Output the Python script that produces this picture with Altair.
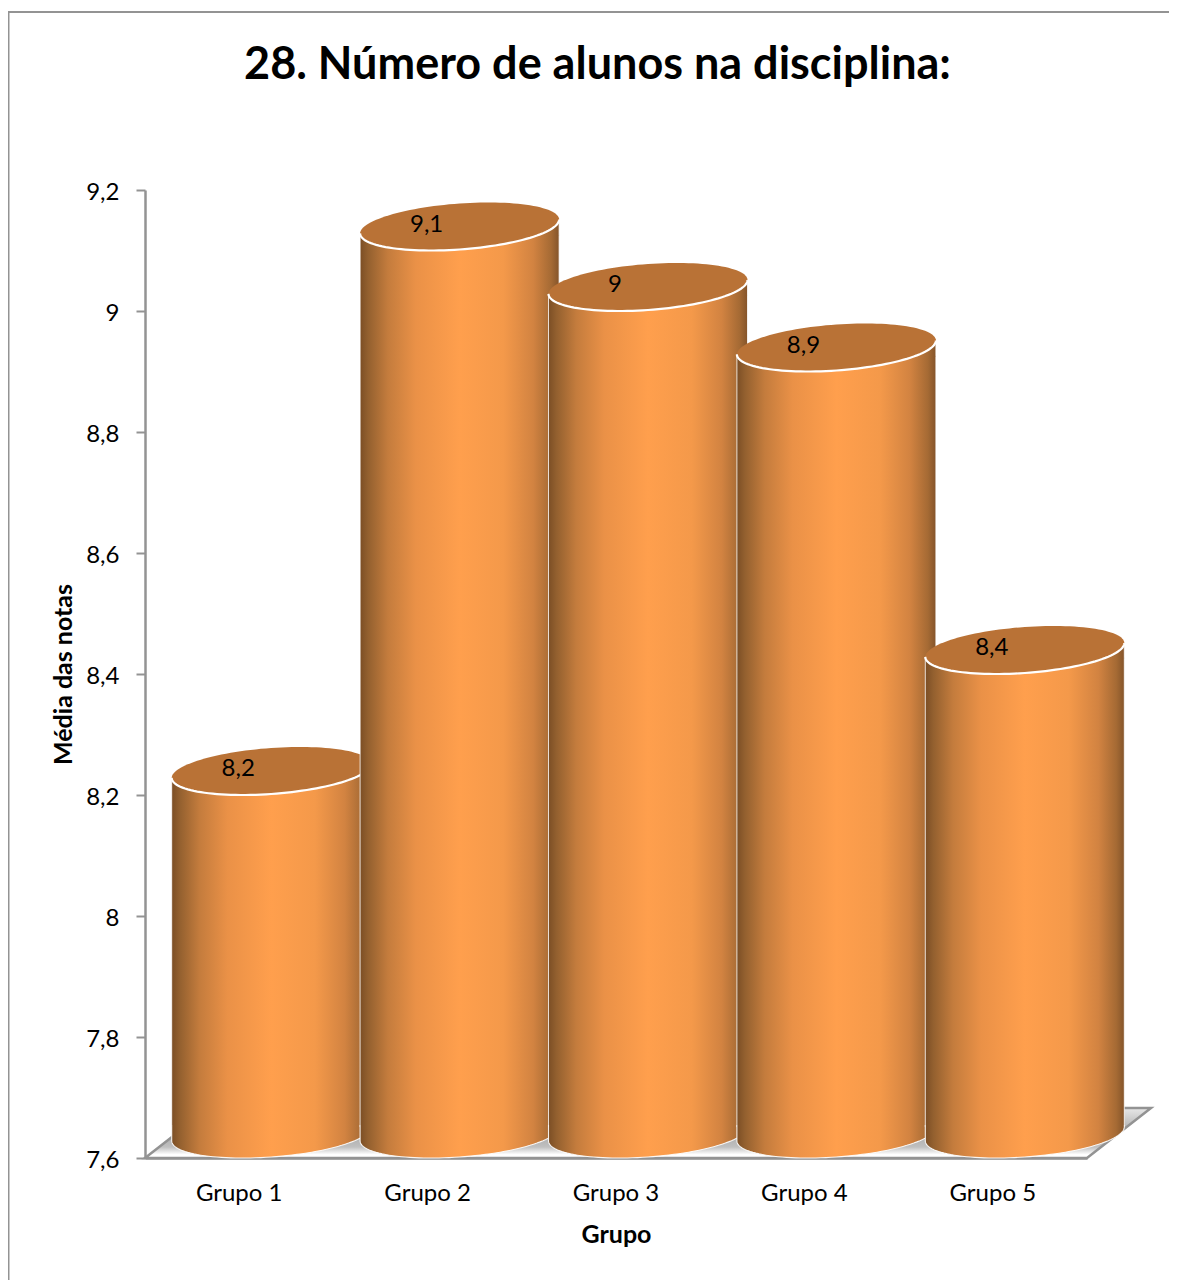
import math
import altair as alt
import pandas as pd

groups = ["Grupo 1", "Grupo 2", "Grupo 3", "Grupo 4", "Grupo 5"]
means = [8.2, 9.1, 9.0, 8.9, 8.4]
y_ticks = [7.6, 7.8, 8.0, 8.2, 8.4, 8.6, 8.8, 9.0, 9.2]
labels = ["8,2", "9,1", "9", "8,9", "8,4"]
base_value = 7.6
title_text = "28. Número de alunos na disciplina:"

df = pd.DataFrame({"g": groups, "v": means, "t": labels, "base": [base_value] * 5})

W, H = 942, 968
R = 99.5            # cylinder half width in px
SIZE = 4 * R * R    # custom symbols are scaled by sqrt(size)/2
B, S = 0.231, 0.07  # ellipse half height and shear, in units of R
DX, DY = 32, -24
FONT = "Lato"
GRAY = "#939393"
INK = "#000000"


def arc(u0, u1, n=60):
    pts = []
    for i in range(n + 1):
        u = u0 + (u1 - u0) * i / n
        pts.append((math.cos(u), B * math.sin(u) - S * math.cos(u)))
    return pts


def path(pts, close=True):
    s = "M" + " L".join(f"{x:.4f} {y:.4f}" for x, y in pts)
    return s + (" Z" if close else "")


ellipse = path(arc(0, 2 * math.pi, 120))
lower = arc(0, math.pi)
E = 0.02
bottom_cap = path([(-1, -S - E), (1, -S - E)] + lower)
top_cap = path([(-1, S + E), (1, S + E)] + lower)
front_arc = path(lower, close=False)
bottom_outline = path([(1, -S - E)] + lower + [(-1, -S - E)], close=False)
top_side = path([(1, -S), (1, S + E)], close=False)

side = alt.LinearGradient(
    gradient="linear", x1=0, x2=1, y1=0, y2=0,
    stops=[
        alt.GradientStop(offset=0.0, color="#7b4e25"),
        alt.GradientStop(offset=0.04, color="#93602f"),
        alt.GradientStop(offset=0.14, color="#c47c3d"),
        alt.GradientStop(offset=0.28, color="#ea9147"),
        alt.GradientStop(offset=0.5, color="#ff9f4d"),
        alt.GradientStop(offset=0.72, color="#f4994a"),
        alt.GradientStop(offset=0.87, color="#d28341"),
        alt.GradientStop(offset=0.96, color="#a56a34"),
        alt.GradientStop(offset=1.0, color="#84542a"),
    ],
)
floor_fill = alt.LinearGradient(
    gradient="linear", x1=0, x2=0, y1=0, y2=1,
    stops=[
        alt.GradientStop(offset=0.0, color="#e8e8e8"),
        alt.GradientStop(offset=0.5, color="#a8a8a8"),
        alt.GradientStop(offset=0.78, color="#c0c0c0"),
        alt.GradientStop(offset=0.93, color="#ffffff"),
        alt.GradientStop(offset=1.0, color="#ffffff"),
    ],
)

x = alt.X(
    "g:N",
    sort=groups,
    scale=alt.Scale(domain=groups, paddingInner=0, paddingOuter=0),
    axis=alt.Axis(
        title="Grupo", titleFont=FONT, titleFontSize=25, titleFontWeight="bold", titleColor=INK,
        titlePadding=17, labelFont=FONT, labelFontSize=24, labelColor=INK, labelAngle=0,
        labelPadding=23, ticks=False, domainColor=GRAY, domainWidth=2.5, grid=False,
    ),
)
y_axis = alt.Axis(
    title="Média das notas", titleFont=FONT, titleFontSize=25, titleFontWeight="bold", titleColor=INK,
    titlePadding=9, labelFont=FONT, labelFontSize=24, labelColor=INK, labelPadding=17, labelOffset=2,
    values=y_ticks, labelExpr="replace(format(datum.value,'.1~f'),'.',',')",
    tickColor=GRAY, tickWidth=2, tickSize=9, domainColor=GRAY, domainWidth=2.5, grid=False,
)
y = alt.Y("v:Q", scale=alt.Scale(domain=[7.6, 9.2], nice=False, zero=False), axis=y_axis)
yb = alt.Y("base:Q", scale=alt.Scale(domain=[7.6, 9.2], nice=False, zero=False), axis=y_axis)

one = alt.Chart(df.head(1))
layers = [
    one.mark_rule(color=GRAY, strokeWidth=3).encode(
        x=alt.value(-137), x2=alt.value(-137), y=alt.value(-178), y2=alt.value(1090)),
    one.mark_rule(color=GRAY, strokeWidth=2).encode(
        x=alt.value(-137), x2=alt.value(1032), y=alt.value(-178), y2=alt.value(-178)),
    one.mark_text(text=title_text, font=FONT, fontSize=45, fontWeight="bold", color=INK,
                  align="center", baseline="middle").encode(x=alt.value(452.5), y=alt.value(-125)),
]

floor_path = "M0 0 L942 0 L1006 -50 L64 -50 Z"
layers.append(
    alt.Chart(df.head(1)).mark_point(
        shape=floor_path, size=4, filled=True, fill=floor_fill, stroke=GRAY, strokeWidth=2.5, opacity=1
    ).encode(x=alt.value(0), y=alt.value(H))
)

for g in groups:
    d = alt.Chart(df[df.g == g])
    layers += [
        d.mark_bar(width=2 * R, fill=side, stroke="#ffffff", strokeWidth=1, strokeOpacity=0.8,
                   xOffset=DX, yOffset=DY + 7, y2Offset=DY - 7).encode(x=x, y=y, y2="base:Q"),
        d.mark_point(shape=bottom_cap, size=SIZE, filled=True, fill=side, strokeWidth=0, opacity=1,
                     xOffset=DX, yOffset=DY).encode(x=x, y=yb),
        d.mark_point(shape=bottom_outline, size=SIZE, filled=False, stroke="#ffffff", strokeWidth=1.1, opacity=0.9,
                     xOffset=DX, yOffset=DY).encode(x=x, y=yb),
        d.mark_point(shape=top_cap, size=SIZE, filled=True, fill=side, strokeWidth=0, opacity=1,
                     xOffset=DX, yOffset=DY).encode(x=x, y=y),
        d.mark_point(shape=top_side, size=SIZE, filled=False, stroke="#ffffff", strokeWidth=1, opacity=0.8,
                     xOffset=DX, yOffset=DY).encode(x=x, y=y),
        d.mark_point(shape=ellipse, size=SIZE, filled=True, fill="#b97236", strokeWidth=0, opacity=1,
                     xOffset=DX, yOffset=DY).encode(x=x, y=y),
        d.mark_point(shape=front_arc, size=SIZE, filled=False, stroke="#ffffff", strokeWidth=2.2, opacity=1,
                     xOffset=DX, yOffset=DY).encode(x=x, y=y),
    ]

for g in groups:
    d = alt.Chart(df[df.g == g])
    layers.append(
        d.mark_text(font=FONT, fontSize=24, color=INK, baseline="middle", yOffset=-26, xOffset=-1).encode(
            x=x, y=y, text="t:N")
    )

chart = alt.layer(*layers).properties(
    width=W,
    height=H,
    padding={"left": 137, "top": 182, "right": 82, "bottom": 122},
    autosize=alt.AutoSizeParams(type="none"),
).configure_view(stroke=None)

chart.save("out.html", embed_options={"renderer": "svg", "actions": False})
